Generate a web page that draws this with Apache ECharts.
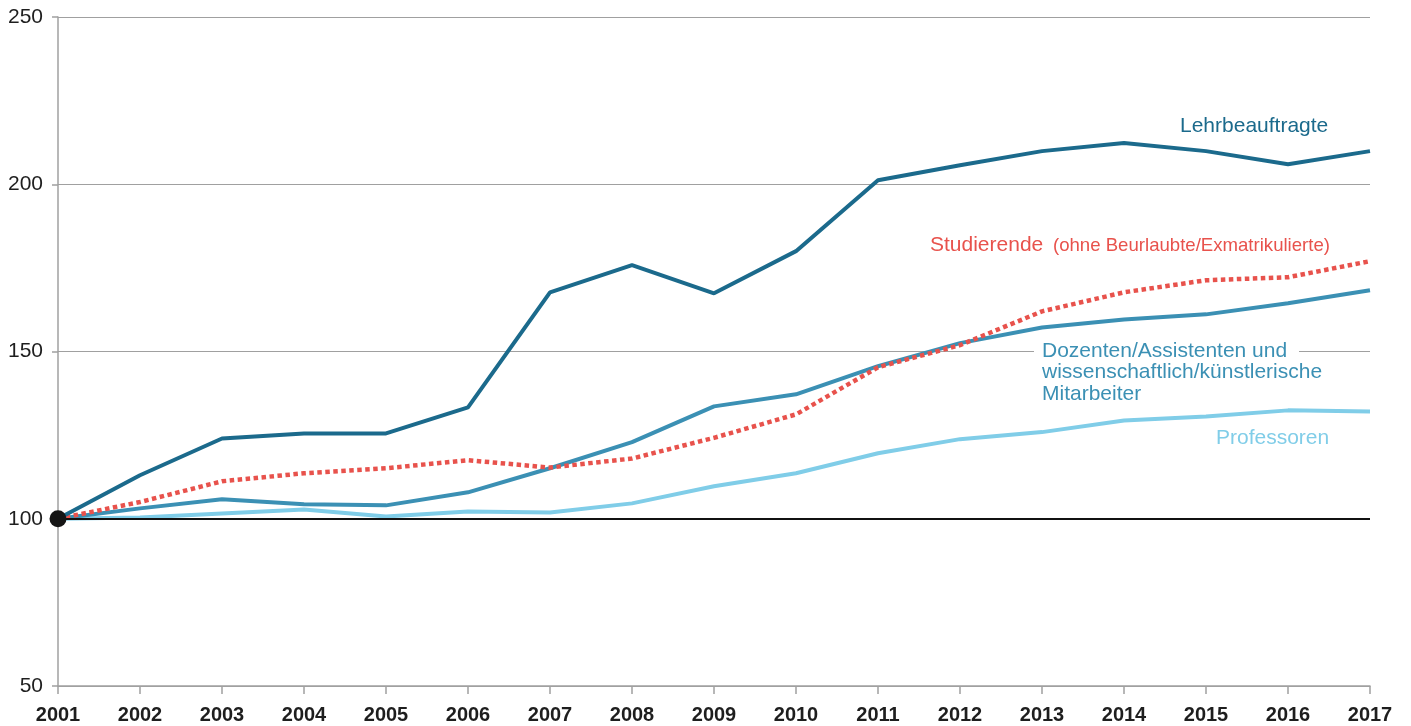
<!DOCTYPE html>
<html><head><meta charset="utf-8">
<script src="https://cdn.jsdelivr.net/npm/echarts@6/dist/echarts.min.js"></script>
<style>html,body{margin:0;padding:0;background:#fff}#c{width:1411px;height:726px}</style>
</head><body><div id="c"></div>
<script>
const years = ['2001','2002','2003','2004','2005','2006','2007','2008','2009','2010','2011','2012','2013','2014','2015','2016','2017'];
const lehrbeauftragte = [100,113,124,125.5,125.5,133.3,167.7,175.8,167.4,180,201.2,205.7,209.9,212.3,209.9,206,209.9];
const studierende = [100,105,111.2,113.6,115.1,117.5,115.3,118,124.2,131.2,145.3,151.9,162,167.7,171.3,172.2,177];
const dozenten = [100,103.1,105.8,104.3,104,107.9,115.1,122.9,133.6,137.2,145.6,152.5,157.2,159.6,161.1,164.4,168.3];
const professoren = [100,100.4,101.6,102.8,100.7,102.2,101.9,104.6,109.7,113.6,119.6,123.8,125.9,129.4,130.6,132.4,132.1];
const baseValue = 100;
const yTicks = {min:50, max:250, interval:50};

const C_LEHR = '#1b6a8c', C_DOZ = '#3b90b4', C_PROF = '#80cde8', C_STUD = '#e8524c';
const FONT = '"Liberation Sans", Arial, Helvetica, sans-serif';

function label(x, y, text, fill, size) {
  return {type:'text', x:x, y:y, z:20, style:{text:text, fill:fill, font:size+'px '+FONT, textVerticalAlign:'middle', textAlign:'left'}};
}

const chart = echarts.init(document.getElementById('c'));
chart.setOption({
  animation:false,
  backgroundColor:'#fff',
  grid:{left:58, right:41, top:17, bottom:40, containLabel:false},
  xAxis:{type:'category', data:years, boundaryGap:false,
    axisLine:{lineStyle:{color:'#a0a0a0', width:1.5}},
    axisTick:{alignWithLabel:true, length:8, lineStyle:{color:'#a0a0a0', width:1.5}},
    axisLabel:{color:'#1e1e1e', fontFamily:FONT, fontWeight:'bold', fontSize:20, margin:19},
    splitLine:{show:false}},
  yAxis:{type:'value', min:yTicks.min, max:yTicks.max, interval:yTicks.interval,
    axisLine:{show:true, lineStyle:{color:'#a0a0a0', width:1.5}},
    axisTick:{show:true, length:6, lineStyle:{color:'#a0a0a0', width:1.5}},
    axisLabel:{color:'#1e1e1e', fontFamily:FONT, fontSize:21, margin:15},
    splitLine:{show:true, lineStyle:{color:'#a0a0a0', width:1.2}}},
  series:[
    {name:'Professoren', type:'line', data:professoren, symbol:'none', lineStyle:{color:C_PROF, width:4}, z:2,
      markLine:{silent:true, symbol:'none', label:{show:false}, lineStyle:{color:'#111', width:2, type:'solid'}, data:[{yAxis:baseValue}]}},
    {name:'Dozenten', type:'line', data:dozenten, symbol:'none', lineStyle:{color:C_DOZ, width:4}, z:3},
    {name:'Studierende', type:'line', data:studierende, symbol:'none', lineStyle:{color:C_STUD, width:4.5, type:[4.5,3.5], cap:'butt'}, z:4},
    {name:'Lehrbeauftragte', type:'line', data:lehrbeauftragte, symbol:'none', lineStyle:{color:C_LEHR, width:4}, z:5},
    {name:'Basis', type:'scatter', data:[[years[0], baseValue]], symbol:'circle', symbolSize:17, itemStyle:{color:'#151515', opacity:1}, z:10}
  ],
  graphic:[
    label(1180, 126, 'Lehrbeauftragte', C_LEHR, 21),
    label(930, 245, 'Studierende', C_STUD, 21),
    label(1053, 246, '(ohne Beurlaubte/Exmatrikulierte)', C_STUD, 18.6),
    {type:'rect', z:15, shape:{x:1034, y:345, width:265, height:12}, style:{fill:'#fff'}},
    label(1042, 351, 'Dozenten/Assistenten und', C_DOZ, 21),
    label(1042, 372.5, 'wissenschaftlich/künstlerische', C_DOZ, 21),
    label(1042, 394, 'Mitarbeiter', C_DOZ, 21),
    label(1216, 438, 'Professoren', C_PROF, 21)
  ]
});
</script></body></html>
